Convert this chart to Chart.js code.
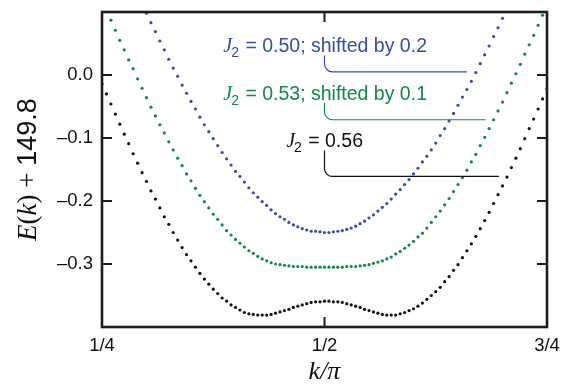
<!DOCTYPE html>
<html>
<head>
<meta charset="utf-8">
<script src="https://cdn.jsdelivr.net/npm/chart.js@4.4.1/dist/chart.umd.min.js"></script>
<style>
  body { margin: 0; background: #fff; }
  canvas { display: block; }
</style>
</head>
<body>
<canvas id="chart" width="564" height="384"></canvas>
<script>
// k / pi grid
var kValues = [
  0.25, 0.255, 0.26, 0.265, 0.27, 0.275, 0.28, 0.285, 0.29, 0.295,
  0.30, 0.305, 0.31, 0.315, 0.32, 0.325, 0.33, 0.335, 0.34, 0.345,
  0.35, 0.355, 0.36, 0.365, 0.37, 0.375, 0.38, 0.385, 0.39, 0.395,
  0.40, 0.405, 0.41, 0.415, 0.42, 0.425, 0.43, 0.435, 0.44, 0.445,
  0.45, 0.455, 0.46, 0.465, 0.47, 0.475, 0.48, 0.485, 0.49, 0.495,
  0.50, 0.505, 0.51, 0.515, 0.52, 0.525, 0.53, 0.535, 0.54, 0.545,
  0.55, 0.555, 0.56, 0.565, 0.57, 0.575, 0.58, 0.585, 0.59, 0.595,
  0.60, 0.605, 0.61, 0.615, 0.62, 0.625, 0.63, 0.635, 0.64, 0.645,
  0.65, 0.655, 0.66, 0.665, 0.67, 0.675, 0.68, 0.685, 0.69, 0.695,
  0.70, 0.705, 0.71, 0.715, 0.72, 0.725, 0.73, 0.735, 0.74, 0.745,
  0.75
];

// J2 = 0.56
var e056 = [
  -0.014, -0.030, -0.046, -0.062, -0.078, -0.094, -0.109, -0.125, -0.140, -0.155,
  -0.169, -0.184, -0.197, -0.211, -0.225, -0.237, -0.250, -0.262, -0.274, -0.285,
  -0.295, -0.305, -0.315, -0.324, -0.332, -0.340, -0.347, -0.354, -0.359, -0.365,
  -0.369, -0.373, -0.377, -0.379, -0.380, -0.381, -0.381, -0.381, -0.380, -0.378,
  -0.376, -0.374, -0.372, -0.369, -0.367, -0.365, -0.363, -0.361, -0.360, -0.360,
  -0.359, -0.359, -0.360, -0.360, -0.361, -0.363, -0.365, -0.367, -0.369, -0.372,
  -0.374, -0.376, -0.378, -0.380, -0.381, -0.381, -0.381, -0.379, -0.377, -0.374,
  -0.371, -0.367, -0.362, -0.356, -0.350, -0.344, -0.337, -0.328, -0.320, -0.310,
  -0.301, -0.290, -0.279, -0.268, -0.256, -0.244, -0.231, -0.218, -0.204, -0.190,
  -0.176, -0.162, -0.147, -0.132, -0.117, -0.101, -0.085, -0.070, -0.054, -0.038,
  -0.022
];

// J2 = 0.53, shifted by 0.1
var e053 = [
  null, null, 0.087, 0.071, 0.055, 0.040, 0.024, 0.010, -0.006, -0.021,
  -0.036, -0.051, -0.065, -0.079, -0.092, -0.106, -0.119, -0.132, -0.144, -0.157,
  -0.168, -0.180, -0.191, -0.201, -0.211, -0.221, -0.229, -0.238, -0.247, -0.254,
  -0.261, -0.267, -0.273, -0.279, -0.283, -0.288, -0.292, -0.295, -0.298, -0.300,
  -0.301, -0.302, -0.303, -0.304, -0.304, -0.304, -0.305, -0.305, -0.305, -0.305,
  -0.305, -0.305, -0.305, -0.305, -0.305, -0.304, -0.304, -0.304, -0.303, -0.302,
  -0.301, -0.299, -0.297, -0.295, -0.292, -0.289, -0.284, -0.280, -0.275, -0.270,
  -0.264, -0.257, -0.251, -0.243, -0.234, -0.225, -0.216, -0.206, -0.196, -0.185,
  -0.174, -0.163, -0.151, -0.138, -0.126, -0.112, -0.099, -0.085, -0.071, -0.057,
  -0.043, -0.028, -0.013, 0.002, 0.017, 0.033, 0.048, 0.063, 0.079, 0.095,
  null
];

// J2 = 0.50, shifted by 0.2
var e050 = [
  null, null, null, null, null, null, null, null, null, null,
  0.098, 0.083, 0.069, 0.054, 0.040, 0.025, 0.011, -0.002, -0.016, -0.029,
  -0.042, -0.054, -0.067, -0.079, -0.090, -0.101, -0.112, -0.123, -0.133, -0.143,
  -0.153, -0.161, -0.170, -0.179, -0.187, -0.194, -0.201, -0.207, -0.214, -0.220,
  -0.225, -0.229, -0.234, -0.238, -0.241, -0.244, -0.246, -0.248, -0.248, -0.249,
  -0.250, -0.250, -0.249, -0.248, -0.247, -0.245, -0.243, -0.240, -0.236, -0.232,
  -0.227, -0.222, -0.216, -0.210, -0.204, -0.197, -0.189, -0.182, -0.174, -0.166,
  -0.157, -0.148, -0.138, -0.129, -0.119, -0.108, -0.096, -0.085, -0.073, -0.061,
  -0.048, -0.035, -0.023, -0.010, 0.004, 0.018, 0.032, 0.046, 0.061, 0.075,
  0.090, null, null, null, null, null, null, null, null, null,
  null
];

var xTicks = [0.25, 0.5, 0.75];
var xTickLabels = ['1/4', '1/2', '3/4'];
var yTicks = [0, -0.1, -0.2, -0.3];
var yTickLabels = ['0.0', '\u20130.1', '\u20130.2', '\u20130.3'];

var noteText = ['0.50; shifted by 0.2', '0.53; shifted by 0.1', '0.56'];
var noteColor = ['#34509f', '#108846', '#111111'];

var SANS = '"Liberation Sans", Arial, sans-serif';
var SERIF = '"Liberation Serif", "Times New Roman", serif';

function points(vals) {
  return vals.map(function (v, i) { return { x: kValues[i], y: v }; });
}

// frame + inward ticks
var framePlugin = {
  id: 'frame',
  afterDraw: function (chart) {
    var c = chart.ctx, a = chart.chartArea;
    var sx = chart.scales.x, sy = chart.scales.y;
    c.save();
    c.strokeStyle = '#1c1c1c';
    c.lineWidth = 2;
    yTicks.forEach(function (v) {
      var py = sy.getPixelForValue(v);
      c.beginPath();
      c.moveTo(a.left, py); c.lineTo(a.left + 10, py);
      c.moveTo(a.right, py); c.lineTo(a.right - 10, py);
      c.stroke();
    });
    var px = sx.getPixelForValue(0.5);
    c.beginPath();
    c.moveTo(px, a.bottom); c.lineTo(px, a.bottom - 10);
    c.moveTo(px, a.top); c.lineTo(px, a.top + 10);
    c.stroke();
    c.lineWidth = 2.6;
    c.strokeRect(a.left, a.top, a.right - a.left, a.bottom - a.top);
    c.restore();
  }
};

// J2 labels with leader lines, axis titles
var notesPlugin = {
  id: 'notes',
  afterDraw: function (chart) {
    var c = chart.ctx;
    var sx = chart.scales.x, sy = chart.scales.y;
    var textX = [0.3863, 0.3863, 0.4569];
    var textY = [0.036, -0.039, -0.114];
    var lineTop = [0.031, -0.044, -0.120];
    var lineY = [0.005, -0.071, -0.161];
    var lineEnd = [0.660, 0.681, 0.696];
    c.save();
    for (var i = 0; i < 3; i++) {
      var x = sx.getPixelForValue(textX[i]);
      var y = sy.getPixelForValue(textY[i]);
      c.fillStyle = noteColor[i];
      c.textBaseline = 'alphabetic';
      c.textAlign = 'left';
      c.font = 'italic 20px ' + SERIF;
      c.fillText('J', x, y);
      x += c.measureText('J').width - 1;
      c.font = '14px ' + SANS;
      c.fillText('2', x, y + 5);
      x += c.measureText('2').width + 1;
      c.font = '19.5px ' + SANS;
      c.fillText(' = ' + noteText[i], x, y);

      var x0 = sx.getPixelForValue(0.5);
      var y0 = sy.getPixelForValue(lineTop[i]);
      var y1 = sy.getPixelForValue(lineY[i]);
      var x1 = sx.getPixelForValue(lineEnd[i]);
      var r = 8;
      c.strokeStyle = noteColor[i];
      c.lineWidth = 1.2;
      c.beginPath();
      c.moveTo(x0, y0);
      c.lineTo(x0, y1 - r);
      c.arcTo(x0, y1, x0 + r, y1, r);
      c.lineTo(x1, y1);
      c.stroke();
    }

    // x title
    var a = chart.chartArea;
    c.fillStyle = '#111';
    c.textAlign = 'center';
    c.textBaseline = 'alphabetic';
    c.font = 'italic 26px ' + SERIF;
    c.fillText('k/\u03c0', sx.getPixelForValue(0.5), 379);

    // y title, mixed fonts
    var parts = [
      ['E', 'italic 27px ' + SERIF],
      ['(', '27px ' + SERIF],
      ['k', 'italic 27px ' + SERIF],
      [')', '27px ' + SERIF],
      [' + ', '27px ' + SERIF],
      ['149.8', '27px ' + SANS]
    ];
    var total = 0;
    parts.forEach(function (p) { c.font = p[1]; total += c.measureText(p[0]).width; });
    c.translate(36, (a.top + a.bottom) / 2);
    c.rotate(-Math.PI / 2);
    c.textAlign = 'left';
    var tx = -total / 2;
    parts.forEach(function (p) {
      c.font = p[1];
      c.fillText(p[0], tx, 0);
      tx += c.measureText(p[0]).width;
    });
    c.restore();
  }
};

window.addEventListener('load', function () {
  var canvas = document.getElementById('chart');
  var dot = { pointRadius: 1.6, pointHoverRadius: 1.6, pointBorderWidth: 0, showLine: false };

  var config = {
    type: 'scatter',
    data: {
      datasets: [
        Object.assign({ label: 'J2 = 0.56', data: points(e056), backgroundColor: '#111111' }, dot),
        Object.assign({ label: 'J2 = 0.53; shifted by 0.1', data: points(e053), backgroundColor: noteColor[1] }, dot),
        Object.assign({ label: 'J2 = 0.50; shifted by 0.2', data: points(e050), backgroundColor: noteColor[0] }, dot)
      ]
    },
    options: {
      responsive: false,
      animation: false,
      layout: { padding: { top: 12, right: 17, left: 0, bottom: 0 } },
      plugins: { legend: { display: false }, tooltip: { enabled: false } },
      scales: {
        x: {
          type: 'linear', min: 0.25, max: 0.75,
          grid: { display: false, drawTicks: false },
          border: { display: false },
          afterBuildTicks: function (s) { s.ticks = xTicks.map(function (v) { return { value: v }; }); },
          ticks: {
            padding: 8, color: '#111', maxRotation: 0, autoSkip: false,
            font: { family: SANS, size: 18.5 },
            callback: function (v) { return xTickLabels[xTicks.indexOf(v)]; }
          },
          afterFit: function (s) { s.height = 57; s.paddingLeft = 0; s.paddingRight = 0; }
        },
        y: {
          type: 'linear', min: -0.4, max: 0.1,
          grid: { display: false, drawTicks: false },
          border: { display: false },
          afterBuildTicks: function (s) { s.ticks = yTicks.map(function (v) { return { value: v }; }); },
          ticks: {
            padding: 9, color: '#111', autoSkip: false,
            font: { family: SANS, size: 18.5 },
            callback: function (v) {
              var i = yTicks.findIndex(function (t) { return Math.abs(t - v) < 1e-9; });
              return yTickLabels[i];
            }
          },
          afterFit: function (s) { s.width = 102; s.paddingTop = 0; s.paddingBottom = 0; }
        }
      }
    },
    plugins: [framePlugin, notesPlugin]
  };

  var chart = new Chart(canvas, config);
});
</script>
</body>
</html>
